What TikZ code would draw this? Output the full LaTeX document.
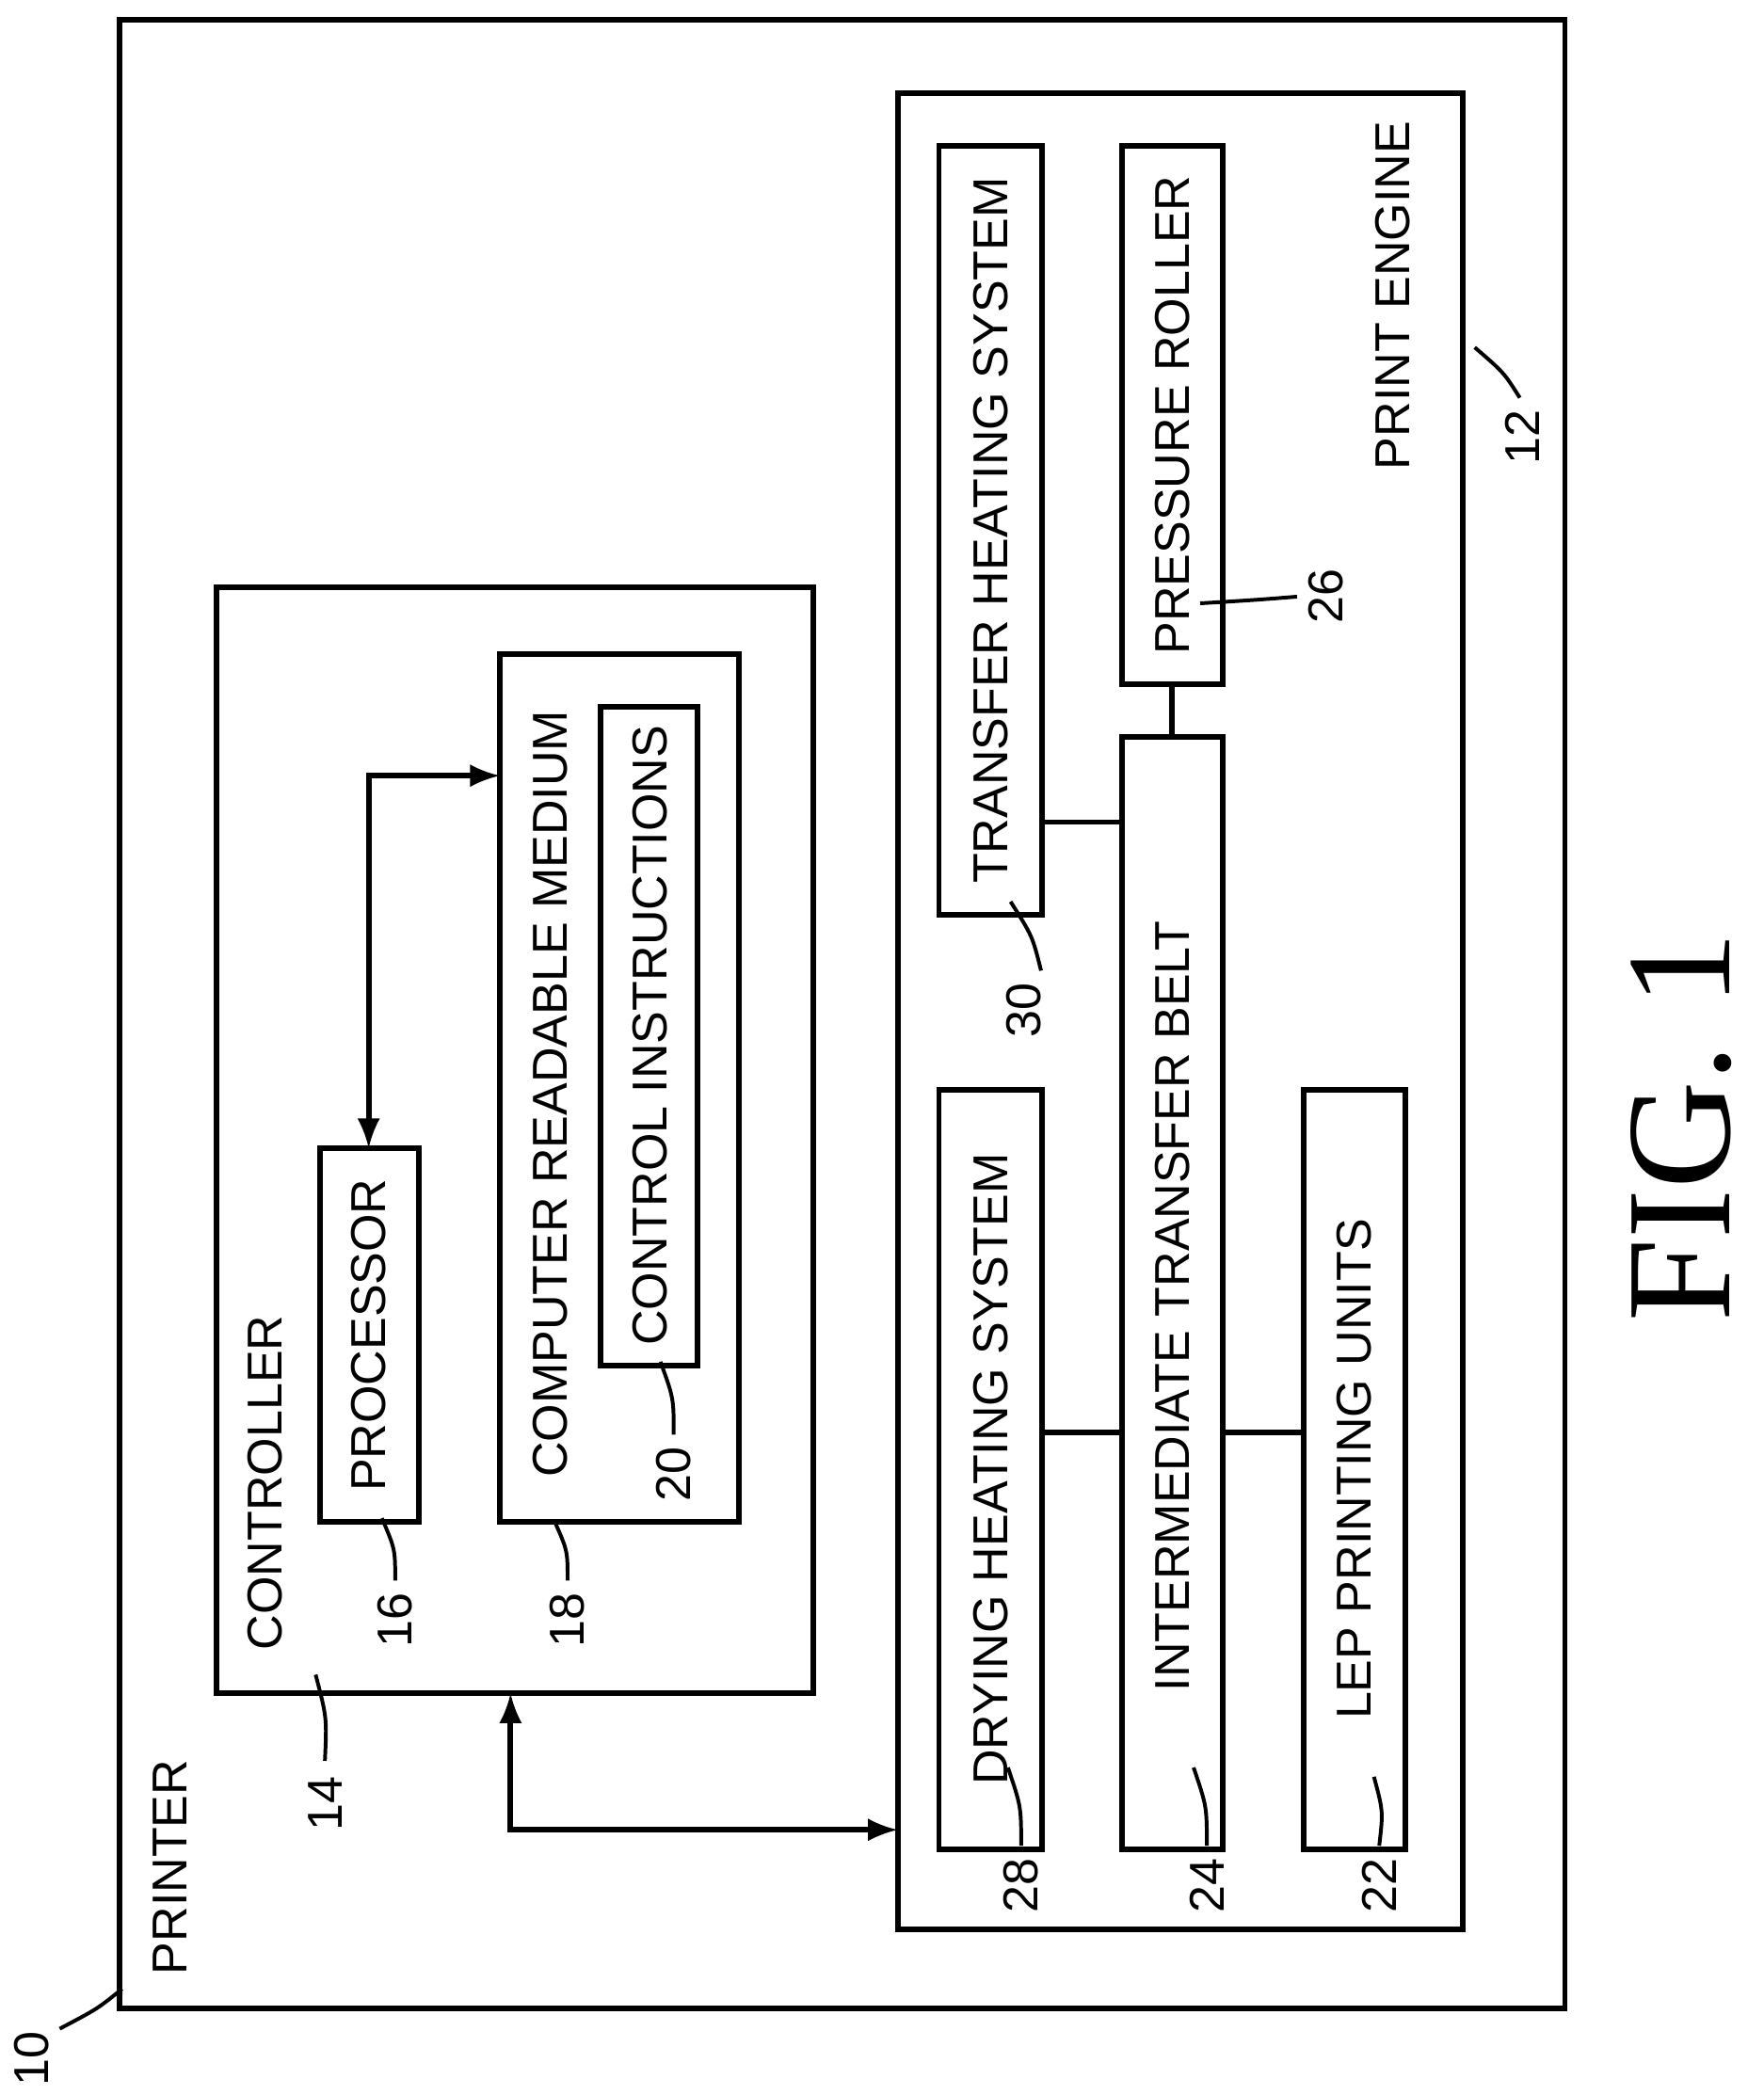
\documentclass[tikz,border=0pt]{standalone}
\usepackage{fontspec}
\setmainfont{Liberation Sans}
\newfontfamily\figfont{Liberation Serif}
\tikzset{
	block/.style={
		rectangle,
		draw=black, very thick,
	},
	txt/.style={rotate=90, inner sep=0pt, font=\fontsize{10.5}{12}\selectfont},
	leader/.style={draw=black, thick},
	link/.style={draw=black, very thick},
}
\begin{document}
\begin{tikzpicture}[x=0.01cm, y=-0.01cm]
	\useasboundingbox (0,0) rectangle (1330,1580);
	% boxes
	\draw[block] (90,15) rectangle (1180,1515);
	\draw[block] (677,70) rectangle (1103,1455);
	\draw[block] (163,443) rectangle (613,1277);
	\draw[block] (241,866) rectangle (316,1148);
	\draw[block] (377,493) rectangle (557,1148);
	\draw[block] (453,533) rectangle (526,1030);
	\draw[block] (708,110) rectangle (786,690);
	\draw[block] (846,110) rectangle (922,516);
	\draw[block] (846,556) rectangle (922,1395);
	\draw[block] (708,822) rectangle (786,1395);
	\draw[block] (983,822) rectangle (1060,1395);
	
	% texts
	\node[txt, anchor=west](PRN) at (128,1490){PRINTER};
	\node[txt, anchor=west](CTL) at (200,1245){CONTROLLER};
	\node[txt](PROC) at (278,1007){PROCESSOR};
	\node[txt, anchor=west](CRM) at (415,1115){COMPUTER READABLE MEDIUM};
	\node[txt](CI) at (490,781){CONTROL INSTRUCTIONS};
	\node[txt, anchor=west](PE) at (1050,355){PRINT ENGINE};
	\node[txt](THS) at (747,400){TRANSFER HEATING SYSTEM};
	\node[txt](PR) at (884,313){PRESSURE ROLLER};
	\node[txt](ITB) at (884,985){INTERMEDIATE TRANSFER BELT};
	\node[txt](DHS) at (747,1108){DRYING HEATING SYSTEM};
	\node[txt](LEP) at (1021,1108){LEP PRINTING UNITS};
	\node[rotate=90, inner sep=0pt, font=\figfont\fontsize{32}{36}\selectfont](FIG) at (1268,850){FIG. 1};
	
	% connectors
	\coordinate (DHSe) at (786,1080); \coordinate (ITBw1) at (846,1080);
	\coordinate (ITBe1) at (922,1080); \coordinate (LEPw) at (983,1080);
	\coordinate (THSe) at (786,620); \coordinate (ITBw2) at (846,620);
	\coordinate (PRs) at (884,516); \coordinate (ITBn) at (884,556);
	\draw[link] (DHSe) -- (ITBw1);
	\draw[link] (ITBe1) -- (LEPw);
	\draw[link] (THSe) -- (ITBw2);
	\draw[link] (PRs) -- (ITBn);
	\coordinate (PROCn) at (278,866); \coordinate (CRMw) at (377,585);
	\draw[link, <->, >=latex] (PROCn) |- (CRMw);
	\coordinate (CTLs) at (385,1277); \coordinate (PEw) at (677,1380);
	\draw[link, <->, >=latex] (CTLs) |- (PEw);
	
	% reference numerals
	\foreach \n/\x/\y/\ax/\ay/\bx/\by in {
		10/24/1553/45/1530/92/1500,
		14/245/1360/245/1328/238/1263,
		16/298/1222/298/1192/288/1145,
		18/428/1222/428/1192/418/1147,
		20/508/1112/508/1082/498/1027,
		28/770/1422/770/1392/760/1333,
		24/910/1422/910/1392/900/1333,
		22/1040/1422/1040/1392/1036/1340,
		30/772/762/785/732/762/680,
		26/1000/450/978/450/905/455,
		12/1148/330/1146/300/1112/262}
	{
		\node[txt](N\n) at (\x,\y){\n};
		\draw[leader] (\ax,\ay) .. controls ({(\ax+\bx)/2+5},{(\ay+\by)/2}) .. (\bx,\by);
	}
\end{tikzpicture}
\end{document}
